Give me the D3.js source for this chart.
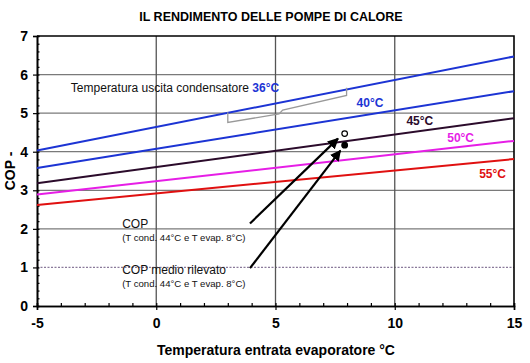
<!DOCTYPE html>
<html>
<head>
<meta charset="utf-8">
<script src="https://cdn.jsdelivr.net/npm/d3@7"></script>
<style>
body { margin: 0; background: #fff; }
text { font-family: "Liberation Sans", Arial, sans-serif; }
</style>
</head>
<body>
<div id="chart"></div>
<script>
// evaporator inlet temperature (x) and COP for each condenser outlet temperature
const evapTemps = [-5, 15];
const cop36 = [4.03, 6.47];
const cop40 = [3.58, 5.57];
const cop45 = [3.18, 4.87];
const cop50 = [2.89, 4.28];
const cop55 = [2.62, 3.81];
const seriesNames = ["36°C", "40°C", "45°C", "50°C", "55°C"];

const xTicks = [-5, 0, 5, 10, 15];
const yTicks = [0, 1, 2, 3, 4, 5, 6, 7];

// measured points at T cond 44°C, T evap 8°C
const pointEvap = [7.9, 7.9];
const pointCop = [4.47, 4.17];

function init() {
    const width = 530;
    const height = 363;
    const margin = { top: 36, right: 16, bottom: 57, left: 37 };

    const colors = ["#1c34d4", "#1c34d4", "#2b0b2b", "#e61ee6", "#e01010"];
    const series = [cop36, cop40, cop45, cop50, cop55].map((vals, i) => ({
        name: seriesNames[i],
        color: colors[i],
        values: evapTemps.map((t, j) => ({ x: t, y: vals[j] }))
    }));

    const x = d3.scaleLinear().domain([-5, 15]).range([margin.left, width - margin.right]);
    const y = d3.scaleLinear().domain([0, 7]).range([height - margin.bottom, margin.top]);

    const svg = d3.select("#chart").append("svg")
        .attr("width", width)
        .attr("height", height);

    svg.append("defs").append("marker")
        .attr("id", "arrow")
        .attr("viewBox", "0 0 10 10")
        .attr("refX", 9).attr("refY", 5)
        .attr("markerWidth", 5).attr("markerHeight", 5)
        .attr("orient", "auto")
        .append("path")
        .attr("d", "M0,0 L10,5 L0,10 z")
        .attr("fill", "#000");

    // title
    svg.append("text")
        .attr("x", 271).attr("y", 21)
        .attr("text-anchor", "middle")
        .style("font-size", "12.5px").style("font-weight", "bold")
        .text("IL RENDIMENTO DELLE POMPE DI CALORE");

    // grid
    svg.append("g").selectAll("line")
        .data(yTicks.slice(1, -1))
        .join("line")
        .attr("x1", x(-5)).attr("x2", x(15))
        .attr("y1", d => y(d)).attr("y2", d => y(d))
        .attr("stroke", d => d === 1 ? "#8a7a9a" : "#7a7a7a")
        .attr("stroke-width", 1.3)
        .attr("stroke-dasharray", d => d === 1 ? "2,1.5" : null);

    svg.append("g").selectAll("line")
        .data(xTicks.slice(1, -1))
        .join("line")
        .attr("x1", d => x(d)).attr("x2", d => x(d))
        .attr("y1", y(0)).attr("y2", y(7))
        .attr("stroke", "#555")
        .attr("stroke-width", 1.3);

    // axes
    const xAxis = svg.append("g")
        .attr("transform", `translate(0,${y(0)})`)
        .call(d3.axisBottom(x).tickValues(xTicks).tickSize(4).tickPadding(8).tickFormat(d => String(d)));
    const xMinor = svg.append("g")
        .attr("transform", `translate(0,${y(0)})`)
        .call(d3.axisBottom(x).tickValues(d3.range(-5, 16, 1)).tickSize(-3).tickFormat(""));

    const yAxis = svg.append("g")
        .attr("transform", `translate(${x(-5)},0)`)
        .call(d3.axisLeft(y).tickValues(yTicks).tickSize(4).tickPadding(5).tickFormat(d => String(d)));
    const yMinor = svg.append("g")
        .attr("transform", `translate(${x(-5)},0)`)
        .call(d3.axisLeft(y).tickValues(d3.range(0, 7.01, 0.2)).tickSize(-2.5).tickFormat(""));

    [xAxis, yAxis, xMinor, yMinor].forEach(a => {
        a.select(".domain").attr("stroke", "#000").attr("stroke-width", 1.6);
        a.selectAll(".tick line").attr("stroke", "#000").attr("stroke-width", 1.2);
    });
    [xAxis, yAxis].forEach(a => a.selectAll(".tick text")
        .style("font-size", "14px").style("font-weight", "bold")
        .style("font-family", "'Liberation Sans', Arial, sans-serif").attr("fill", "#000"));

    // frame top and right
    svg.append("path")
        .attr("d", `M${x(-5)},${y(7)}H${x(15)}V${y(0)}`)
        .attr("fill", "none").attr("stroke", "#000").attr("stroke-width", 1.6);

    // axis titles
    svg.append("text")
        .attr("x", 276).attr("y", 355)
        .attr("text-anchor", "middle")
        .style("font-size", "14px").style("font-weight", "bold")
        .text("Temperatura entrata evaporatore °C");
    svg.append("text")
        .attr("transform", "translate(15,171) rotate(-90)")
        .attr("text-anchor", "middle")
        .style("font-size", "14px").style("font-weight", "bold")
        .text("COP -");

    // series lines
    const line = d3.line().x(d => x(d.x)).y(d => y(d.y));
    svg.append("g").selectAll("path")
        .data(series)
        .join("path")
        .attr("d", d => line(d.values))
        .attr("fill", "none")
        .attr("stroke", d => d.color)
        .attr("stroke-width", 2);

    // condenser label and bracket
    const anno = svg.append("g");
    const condText = anno.append("text")
        .attr("x", x(-3.58)).attr("y", y(5.54))
        .style("font-size", "12px")
        .attr("fill", "#111");
    condText.append("tspan").text("Temperatura uscita condensatore ");
    condText.append("tspan")
        .style("font-weight", "bold").attr("fill", series[0].color)
        .text(series[0].name);

    const bracket = [[3.0, 5.02], [3.0, 4.76], [5.15, 4.98], [5.3, 5.08], [7.98, 5.46], [7.98, 5.66]];
    anno.append("path")
        .attr("d", d3.line().x(d => x(d[0])).y(d => y(d[1]))(bracket))
        .attr("fill", "none").attr("stroke", "#999").attr("stroke-width", 1.3);

    // series labels
    const labelPos = [null, [8.4, 5.15], [10.49, 4.69], [12.2, 4.24], [13.54, 3.31]];
    series.forEach((s, i) => {
        if (!labelPos[i]) return;
        svg.append("text")
            .attr("x", x(labelPos[i][0])).attr("y", y(labelPos[i][1]))
            .style("font-size", "12px").style("font-weight", "bold")
            .attr("fill", s.color)
            .text(s.name);
    });

    // COP notes + arrows
    const notes = [
        { title: "COP", sub: "(T cond. 44°C e T evap. 8°C)", at: [-1.43, 2.01], from: [3.93, 2.14], to: [7.62, 4.34] },
        { title: "COP medio rilevato", sub: "(T cond. 44°C e T evap. 8°C)", at: [-1.43, 0.82], from: [3.93, 0.98], to: [7.72, 4.03] }
    ];
    notes.forEach(n => {
        const t = svg.append("text").attr("x", x(n.at[0])).attr("y", y(n.at[1])).attr("fill", "#111");
        t.append("tspan").style("font-size", "12px").text(n.title);
        t.append("tspan").attr("x", x(n.at[0])).attr("dy", 13)
            .style("font-size", "9.6px").text(n.sub);
        svg.append("line")
            .attr("x1", x(n.from[0])).attr("y1", y(n.from[1]))
            .attr("x2", x(n.to[0])).attr("y2", y(n.to[1]))
            .attr("stroke", "#000").attr("stroke-width", 2.2)
            .attr("marker-end", "url(#arrow)");
    });

    // measured points
    svg.append("g").selectAll("circle")
        .data(pointEvap.map((t, i) => ({ x: t, y: pointCop[i], open: i === 0 })))
        .join("circle")
        .attr("cx", d => x(d.x)).attr("cy", d => y(d.y))
        .attr("r", 2.8)
        .attr("fill", d => d.open ? "#fff" : "#000")
        .attr("stroke", "#000").attr("stroke-width", 1.2);
}

window.onload = init;
</script>
</body>
</html>
